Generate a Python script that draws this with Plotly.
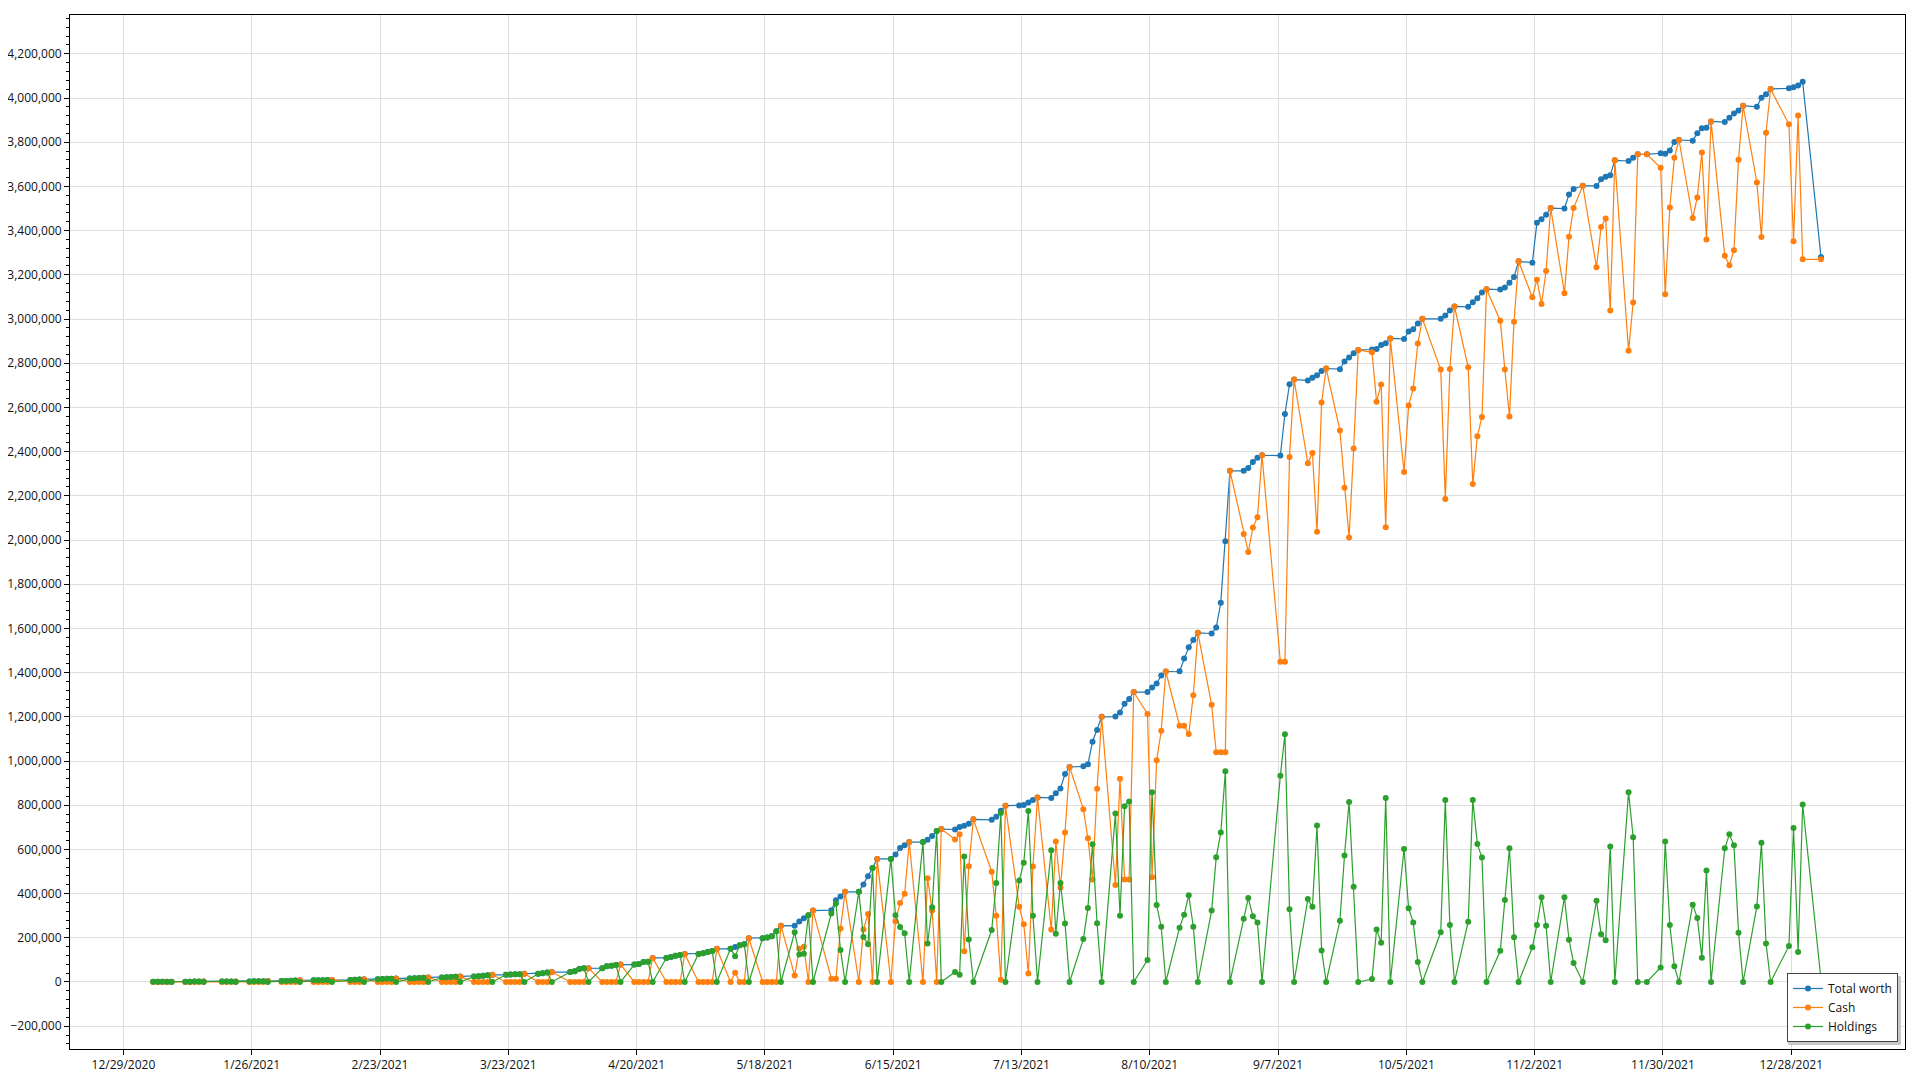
import pandas as pd
import plotly.graph_objects as go

# ---- trading calendar (days absent from the data) ----
skipped_days = ['2021-01-18', '2021-02-15', '2021-04-02', '2021-05-31', '2021-07-05',
                '2021-09-06', '2021-10-11', '2021-11-11', '2021-11-25', '2021-12-24',
                '2021-12-31']
first_day = '2021-01-04'
last_day = '2022-01-03'

# ---- values in thousands, week by week ----
total_k = [
    1.0, 1.1, 1.2, 1.3, 1.4,
    1.4, 1.55, 1.7, 1.85, 2.0,
    2.0, 2.2, 2.4, 2.6,
    2.6, 3.0, 3.3, 3.7, 4.3,
    4.3, 5.0, 5.8, 6.6, 7.5,
    7.5, 7.9, 8.3, 8.8, 9.2,
    9.2, 10.2, 11.5, 12.8,
    12.8, 13.5, 14.2, 15.0, 15.6,
    15.6, 16.5, 17.8, 19.0, 20.3,
    20.3, 21.0, 22.2, 23.5, 24.8,
    24.8, 26.5, 28.5, 30.5, 32.5,
    32.5, 33.5, 34.5, 35.5, 37.5,
    37.5, 40.0, 42.5, 45.0,
    45.0, 48.5, 58.5, 62.0, 62.5,
    62.5, 71.0, 74.0, 77.0, 79.0,
    79.0, 81.5, 90.5, 92.0, 109.0,
    109, 113, 119, 122, 127,
    127, 130, 136, 140, 150,
    150, 158, 166, 171, 198,
    198, 201, 207, 230, 255,
    254, 274, 288, 302, 323,
    325, 370, 387, 408,
    408, 441, 479, 516, 557,
    557, 577, 606, 619, 633,
    633, 644, 661, 683, 692,
    690, 701, 707, 716, 736,
    734, 748, 775, 798,
    799, 801, 812, 823, 835,
    833, 854, 876, 941, 973,
    976, 985, 1087, 1140, 1200,
    1201, 1220, 1259, 1281, 1312,
    1312, 1333, 1351, 1387, 1405,
    1406, 1464, 1515, 1547, 1580,
    1577, 1604, 1716, 1994, 2313,
    2313, 2326, 2353, 2372, 2383,
    2382, 2570, 2705, 2726,
    2722, 2734, 2745, 2765, 2776,
    2773, 2808, 2826, 2845, 2860,
    2862, 2864, 2882, 2890, 2912,
    2910, 2943, 2954, 2980, 3001,
    3001, 3016, 3038, 3057,
    3055, 3076, 3094, 3120, 3135,
    3133, 3142, 3164, 3190, 3261,
    3255, 3436, 3451, 3472, 3502,
    3500, 3563, 3588, 3603,
    3602, 3632, 3644, 3651, 3718,
    3715, 3730, 3745, 3745,
    3750, 3748, 3762, 3801, 3810,
    3807, 3840, 3863, 3865, 3894,
    3891, 3911, 3930, 3944, 3965,
    3960, 4001, 4017, 4041,
    4044, 4049, 4057, 4073,
    3280,
]

cash_k = [
    0, 0, 0, 0, 1.4,
    0, 0, 0, 0, 2.0,
    0, 0, 0, 2.6,
    0, 0, 0, 0, 4.3,
    0, 0, 0, 0, 7.5,
    0, 0, 0, 0, 9.2,
    0, 0, 0, 12.8,
    0, 0, 0, 0, 15.6,
    0, 0, 0, 0, 20.3,
    0, 0, 0, 0, 24.8,
    0, 0, 0, 0, 32.5,
    0, 0, 0, 0, 37.5,
    0, 0, 0, 45.0,
    0, 0, 0, 0, 62.5,
    0, 0, 0, 0, 79.0,
    0, 0, 0, 0, 109.0,
    0, 0, 0, 0, 127,
    0, 0, 0, 0, 150,
    0, 42, 0, 0, 198,
    0, 0, 0, 0, 255,
    29, 150, 160, 0, 323,
    15, 15, 242, 408,
    0, 237, 308, 0, 557,
    0, 275, 357, 399, 633,
    0, 470, 323, 0, 692,
    645, 668, 139, 524, 736,
    499, 300, 10, 798,
    340, 261, 38, 523, 835,
    237, 636, 428, 676, 973,
    782, 650, 464, 874, 1200,
    439, 920, 464, 464, 1312,
    1213, 474, 1003, 1137, 1405,
    1160, 1160, 1122, 1297, 1580,
    1254, 1040, 1040, 1040, 2313,
    2027, 1946, 2056, 2103, 2383,
    1449, 1449, 2376, 2726,
    2347, 2394, 2037, 2622, 2776,
    2496, 2236, 2011, 2414, 2860,
    2849, 2626, 2704, 2058, 2912,
    2308, 2609, 2685, 2889, 3001,
    2771, 2186, 2774, 3057,
    2782, 2253, 2470, 2557, 3135,
    2992, 2771, 2559, 2988, 3261,
    3098, 3178, 3068, 3217, 3502,
    3117, 3372, 3502, 3603,
    3234, 3416, 3455, 3038, 3718,
    2856, 3075, 3745, 3745,
    3684, 3112, 3504, 3730, 3810,
    3457, 3550, 3753, 3360, 3894,
    3286, 3243, 3311, 3721, 3965,
    3618, 3371, 3843, 4041,
    3881, 3352, 3921, 3270,
    3270,
]

holdings_k = [
    1.0, 1.1, 1.2, 1.3, 0,
    1.4, 1.55, 1.7, 1.85, 0,
    2.0, 2.2, 2.4, 0,
    2.6, 3.0, 3.3, 3.7, 0,
    4.3, 5.0, 5.8, 6.6, 0,
    7.5, 7.9, 8.3, 8.8, 0,
    9.2, 10.2, 11.5, 0,
    12.8, 13.5, 14.2, 15.0, 0,
    15.6, 16.5, 17.8, 19.0, 0,
    20.3, 21.0, 22.2, 23.5, 0,
    24.8, 26.5, 28.5, 30.5, 0,
    32.5, 33.5, 34.5, 35.5, 0,
    37.5, 40.0, 42.5, 0,
    45.0, 48.5, 58.5, 62.0, 0,
    62.5, 71.0, 74.0, 77.0, 0,
    79.0, 81.5, 90.5, 92.0, 0,
    109, 113, 119, 122, 0,
    127, 130, 136, 140, 0,
    150, 116, 166, 171, 0,
    198, 201, 207, 230, 0,
    225, 124, 128, 302, 0,
    310, 355, 145, 0,
    408, 204, 171, 516, 0,
    557, 302, 249, 220, 0,
    633, 174, 338, 683, 0,
    45, 33, 568, 192, 0,
    235, 448, 765, 0,
    459, 540, 774, 300, 0,
    596, 218, 448, 265, 0,
    194, 335, 623, 266, 0,
    762, 300, 795, 817, 0,
    99, 859, 348, 250, 0,
    246, 304, 393, 250, 0,
    323, 564, 676, 954, 0,
    286, 380, 297, 269, 0,
    933, 1121, 329, 0,
    375, 340, 708, 143, 0,
    277, 572, 815, 431, 0,
    13, 238, 178, 832, 0,
    602, 334, 269, 91, 0,
    225, 823, 258, 0,
    273, 823, 624, 563, 0,
    141, 371, 605, 202, 0,
    157, 258, 383, 255, 0,
    383, 191, 86, 0,
    368, 216, 189, 613, 0,
    859, 655, 0, 0,
    66, 636, 258, 71, 0,
    350, 290, 110, 505, 0,
    605, 668, 619, 223, 0,
    342, 630, 174, 0,
    163, 697, 136, 803,
    10,
]

series_names = ['Total worth', 'Cash', 'Holdings']
series_colors = ['#1f77b4', '#ff7f0e', '#2ca02c']

days = [d for d in pd.bdate_range(first_day, last_day) if d.strftime('%Y-%m-%d') not in skipped_days]
x = [d + pd.Timedelta(hours=12) for d in days]
assert len(x) == len(total_k) == len(cash_k) == len(holdings_k), (len(x), len(total_k), len(cash_k), len(holdings_k))

fig = go.Figure()
for name, vals, col in zip(series_names, [total_k, cash_k, holdings_k], series_colors):
    fig.add_trace(go.Scatter(
        x=x, y=[v * 1000 for v in vals], name=name, mode='lines+markers',
        line=dict(color=col, width=1.2),
        marker=dict(color=col, size=6),
    ))

# figure sized to sit inside the page's default 8px body margin
W, H = 1904, 1064
ML, MR, MT, MB = 62, 7, 7, 23
PW, PH = W - ML - MR, H - MT - MB

# legend placement (pixels from the plot's bottom-right corner)
leg_right_px, leg_bottom_px = 7, 7
leg_w_px, leg_h_px = 113, 69
shadow_off = 3
lx1 = 1 - leg_right_px / PW
ly0 = leg_bottom_px / PH
sx0 = (PW - leg_right_px - leg_w_px + shadow_off) / PW
sx1 = (PW - leg_right_px + shadow_off) / PW
sy0 = (leg_bottom_px - shadow_off) / PH
sy1 = (leg_bottom_px + leg_h_px - shadow_off) / PH

font_family = 'Segoe UI, Open Sans, Noto Sans, sans-serif'
fig.update_layout(
    width=W, height=H,
    margin=dict(l=ML, r=MR, t=MT, b=MB, autoexpand=False),
    paper_bgcolor='white', plot_bgcolor='white',
    font=dict(family=font_family, size=12, color='#111'),
    showlegend=True,
    legend=dict(x=lx1, y=ly0, xanchor='right', yanchor='bottom',
                bgcolor='white', bordercolor='#444', borderwidth=1,
                font=dict(size=12, color='#111'), itemwidth=30,
                tracegroupgap=2),
    shapes=[dict(type='rect', xref='paper', yref='paper', layer='above',
                 x0=sx0, x1=sx1, y0=sy0, y1=sy1,
                 fillcolor='#c8c8c8', line=dict(width=0))],
)
fig.update_xaxes(
    type='date', range=['2020-12-17 08:00', '2022-01-21 20:00'],
    tickmode='linear', tick0='2020-12-29', dtick=28 * 86400000,
    tickformat='%-m/%-d/%Y', automargin=False,
    showgrid=True, gridcolor='#dedede', gridwidth=1,
    showline=True, linecolor='black', linewidth=1, mirror=True,
    ticks='outside', ticklen=5, tickcolor='black', zeroline=False,
)
fig.update_yaxes(
    range=[-303200, 4375600], tick0=0, dtick=200000, tickformat=',d',
    automargin=False,
    showgrid=True, gridcolor='#dedede', gridwidth=1,
    showline=True, linecolor='black', linewidth=1, mirror=True,
    ticks='outside', ticklen=5, tickcolor='black', zeroline=False,
    minor=dict(dtick=40000, ticks='outside', ticklen=3, tickcolor='black', showgrid=False),
)

fig.write_html('out.html')
